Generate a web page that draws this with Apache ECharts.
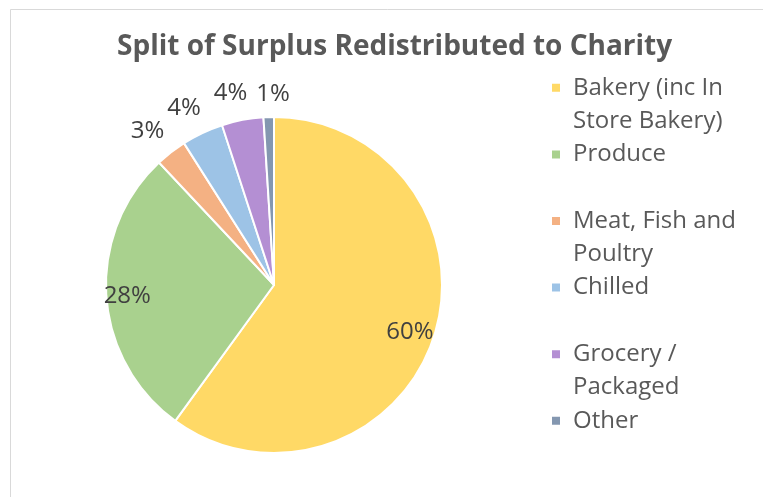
<!DOCTYPE html>
<html>
<head>
<meta charset="utf-8">
<script src="https://cdn.jsdelivr.net/npm/echarts@6/dist/echarts.min.js"></script>
<style>
  html, body { margin: 0; padding: 0; background: #ffffff; }
  #chart { width: 763px; height: 497px; }
</style>
</head>
<body>
<div id="chart"></div>
<script>
// Surplus food redistributed to charity, share by department (%)
const categories = [
  'Bakery (inc In Store Bakery)',
  'Produce',
  'Meat, Fish and Poultry',
  'Chilled',
  'Grocery / Packaged',
  'Other'
];
const shares = [60, 28, 3, 4, 4, 1];
// Legend text broken onto lines the way it is set in the key
const legendLines = [
  ['Bakery (inc In', 'Store Bakery)'],
  ['Produce'],
  ['Meat, Fish and', 'Poultry'],
  ['Chilled'],
  ['Grocery /', 'Packaged'],
  ['Other']
];
const colors = ['#FFD966', '#A9D18E', '#F4B183', '#9DC3E6', '#B48FD3', '#8497B0'];

const CX = 274, CY = 285, R = 168;
const textColor = '#404040';
const fontFamily = '"Open Sans", "Liberation Sans", sans-serif';

const sliceData = categories.map((name, i) => ({
  name: name,
  value: shares[i],
  itemStyle: { color: colors[i] }
}));

// Transparent rings that only carry the percentage labels
function labelRing(showIdx) {
  return categories.map((name, i) => ({
    name: name,
    value: shares[i],
    itemStyle: { color: 'rgba(0,0,0,0)', borderWidth: 0 },
    label: { show: showIdx.indexOf(i) >= 0 }
  }));
}

const labelStyle = {
  position: 'inside',
  formatter: '{c}%',
  color: textColor,
  fontSize: 24,
  fontFamily: fontFamily,
  overflow: 'none'
};

function labelSeries(center, radius, showIdx) {
  return {
    type: 'pie',
    center: center,
    radius: radius,
    startAngle: 90,
    clockwise: true,
    silent: true,
    avoidLabelOverlap: false,
    labelLayout: { hideOverlap: false },
    label: labelStyle,
    labelLine: { show: false },
    emphasis: { disabled: true },
    data: labelRing(showIdx),
    z: 3
  };
}

const chart = echarts.init(document.getElementById('chart'), null, { renderer: 'canvas' });

chart.setOption({
  backgroundColor: '#ffffff',
  animation: false,
  color: colors,
  graphic: [{
    type: 'rect',
    shape: { x: 10.5, y: 9.5, width: 800, height: 600 },
    style: { fill: 'none', stroke: '#d9d9d9', lineWidth: 1 },
    silent: true,
    z: 0
  }],
  title: {
    text: 'Split of Surplus Redistributed to Charity',
    left: 112,
    top: 28,
    textStyle: {
      color: '#595959',
      fontSize: 28,
      fontWeight: 'bold',
      fontFamily: fontFamily
    }
  },
  legend: {
    orient: 'vertical',
    left: 550,
    top: 38,
    padding: 0,
    itemGap: -33,
    itemWidth: 10,
    itemHeight: 10,
    icon: 'rect',
    data: categories,
    selectedMode: false,
    formatter: function (name) {
      const lines = legendLines[categories.indexOf(name)];
      return '\u00a0\n' + lines[0] + '\n' + (lines[1] || '\u00a0');
    },
    textStyle: {
      color: '#595959',
      fontSize: 24,
      lineHeight: 33.2,
      fontFamily: fontFamily,
      padding: [0, 0, 0, 7]
    }
  },
  series: [
    {
      name: 'Surplus',
      type: 'pie',
      center: [CX, CY],
      radius: [0, R],
      startAngle: 90,
      clockwise: true,
      label: { show: false },
      labelLine: { show: false },
      itemStyle: { borderColor: '#ffffff', borderWidth: 2 },
      emphasis: { disabled: true },
      data: sliceData,
      z: 2
    },
    // labels inside the two large slices
    labelSeries([CX - 2, CY + 2], [124, 160], [0, 1]),
    // labels outside the small slices, spread apart so they do not collide
    labelSeries([CX - 7, CY], [180, 204], [2, 3, 4]),
    labelSeries([CX + 5, CY], [176, 200], [5])
  ]
});
</script>
</body>
</html>
